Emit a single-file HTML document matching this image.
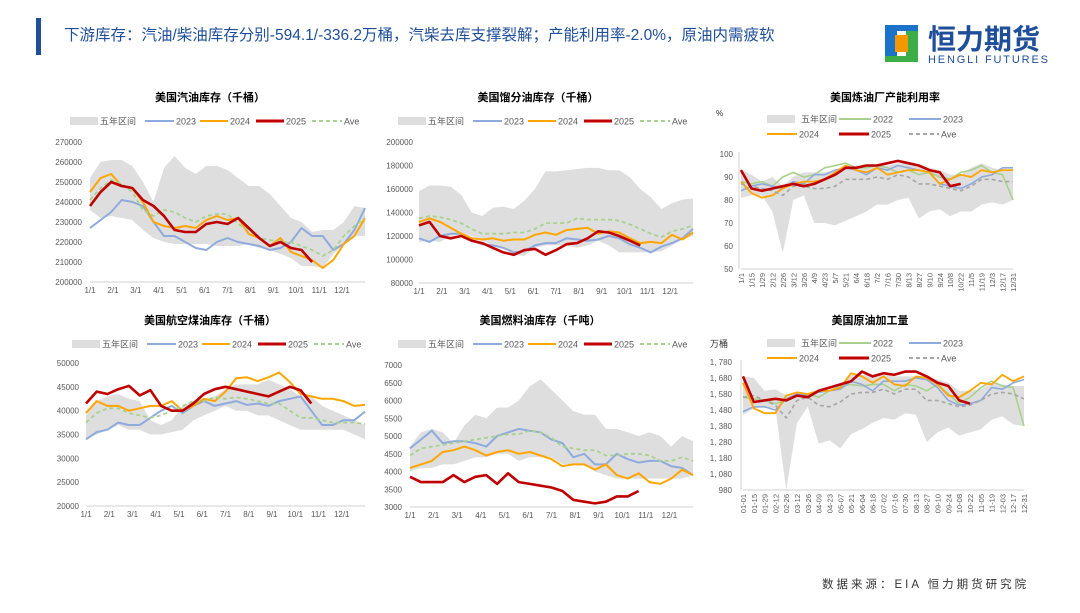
<!DOCTYPE html>
<html><head><meta charset="utf-8">
<style>
html,body{margin:0;padding:0;background:#fff;}
body{width:1080px;height:608px;overflow:hidden;position:relative;font-family:"Liberation Sans","Noto Sans CJK SC",sans-serif;}
svg text{font-family:"Liberation Sans","Noto Sans CJK SC",sans-serif;}
</style></head>
<body>
<svg id="pg" width="1080" height="608" viewBox="0 0 1080 608" xmlns="http://www.w3.org/2000/svg">
  <rect x="36" y="18" width="5" height="37" fill="#1f4e9a"/>
  <text x="64" y="40" font-size="15.5" fill="#1f4e9a">下游库存：汽油/柴油库存分别-594.1/-336.2万桶，汽柴去库支撑裂解；产能利用率-2.0%，原油内需疲软</text>
  <g>
    <rect x="885" y="25" width="12" height="37" fill="#1a73c8"/>
    <rect x="906" y="25" width="12" height="37" fill="#3cae48"/>
    <rect x="885" y="25" width="33" height="6" fill="#1a73c8"/>
    <rect x="885" y="56" width="33" height="6" fill="#3cae48"/>
    <rect x="895" y="35" width="13" height="17" fill="#f39800"/>
    <text x="928" y="49" font-size="28" font-weight="bold" fill="#1f4e9a">恒力期货</text>
    <text x="928" y="63" font-size="11" fill="#1f4e9a" textLength="120">HENGLI FUTURES</text>
  </g>
  <text x="822" y="588" font-size="11.5" fill="#333" letter-spacing="3">数据来源：EIA 恒力期货研究院</text>
</svg>
<script>
// ---------- data ----------
const monthLabels = ["1/1","2/1","3/1","4/1","5/1","6/1","7/1","8/1","9/1","10/1","11/1","12/1"];
const weekLabels = ["1/1","1/15","1/29","2/12","2/26","3/12","3/26","4/9","4/23","5/7","5/21","6/4","6/18","7/2","7/16","7/30","8/13","8/27","9/10","9/24","10/8","10/22","11/5","11/19","12/3","12/17","12/31"];
const dashLabels = ["01-01","01-15","01-29","02-12","02-26","03-12","03-26","04-09","04-23","05-07","05-21","06-04","06-18","07-02","07-16","07-30","08-13","08-27","09-10","09-24","10-08","10-22","11-05","11-19","12-03","12-17","12-31"];

const gasTicks = [200000,210000,220000,230000,240000,250000,260000,270000];
const gasMin = [236,232,233,232,231,226,222,220,219,219,219,219,218,218,218,219,217,216,214,212,208,208,207,214,219,223,223];
const gasMax = [252,260,261,261,258,250,240,257,263,257,254,258,258,256,252,248,248,244,238,232,230,225,226,226,230,238,237];
const gas2023 = [227,231,235,241,240,238,230,223,223,220,217,216,220,222,220,219,218,216,217,220,227,223,223,216,219,226,237];
const gas2024 = [245,252,254,248,247,240,230,228,227,228,227,231,233,231,232,224,222,218,222,215,213,211,207,211,219,223,232];
const gas2025 = [238,245,250,248,247,241,238,233,226,225,225,229,230,229,232,227,222,218,220,217,216,210];
const gasAve = [241,247,251,249,245,236,233,236,235,232,230,233,234,234,229,226,222,221,220,220,218,216,213,216,223,228,232];

const disTicks = [80000,100000,120000,140000,160000,180000,200000];
const disMin = [115,116,115,120,122,120,116,112,111,104,103,110,112,112,112,110,112,116,112,106,106,106,106,107,112,117,120];
const disMax = [158,163,163,162,155,140,137,144,145,143,150,160,175,175,176,177,178,178,176,176,170,160,153,143,148,151,152];
const dis2023 = [118,115,120,122,122,116,113,112,110,106,107,112,114,114,118,117,116,117,120,118,113,110,106,111,114,118,126];
const dis2024 = [132,135,132,127,122,118,117,118,116,117,117,121,123,121,125,126,127,122,124,123,118,114,115,114,121,117,123];
const dis2025 = [129,132,120,118,120,116,114,110,106,104,108,109,104,108,113,114,118,124,123,120,116,112];
const disAve = [135,137,136,134,131,126,122,122,122,123,123,126,131,131,131,135,134,134,134,133,130,126,122,119,124,126,129];

const utilTicks = [50,60,70,80,90,100];
const utilMin = [81,82,82,75,57,80,82,70,70,69,71,73,75,78,78,80,81,72,75,76,73,75,75,78,79,78,80];
const utilMax = [93,91,88,90,86,90,92,92,92,93,95,95,95,95,95,96,96,95,94,93,91,91,94,96,94,93,93];
const util2022 = [88,87,88,86,90,92,90,91,94,95,96,94,94,95,94,92,93,91,92,90,89,92,93,95,92,91,80];
const util2023 = [84,86,87,86,85,88,87,91,91,93,94,93,91,94,93,95,94,93,92,87,86,85,87,90,91,94,94];
const util2024 = [88,83,81,82,85,87,88,88,89,92,95,93,92,94,91,92,93,93,92,87,89,91,90,93,92,93,93];
const util2025 = [93,85,84,85,86,87,86,87,89,91,94,94,95,95,96,97,96,95,93,92,86,87];
const utilAve = [87,86,85,84,82,86,86,85,85,86,89,89,89,90,89,91,90,87,87,86,85,84,86,89,89,88,88];

const jetTicks = [20000,25000,30000,35000,40000,45000,50000];
const jetMin = [34,35,36,37,36,36,35,35,35.5,36,38,39,40,41,40,40,39,39,38,37,36,36,36,36,36,35,34];
const jetMax = [39,42,43,43.5,42.5,42,38,37,38,41,42,42.5,43,44.5,45.5,45.5,45.5,46.5,45.5,44.5,43,43,41,40,39,38,37];
const jet2023 = [34,35.5,36,37.5,37,37,38.5,40,41,39.5,41,42,41,41.5,42,41.2,41.5,41,42,42.5,43,40,37,37,38,38,39.8];
const jet2024 = [39.5,42,41,41,40,40.5,41,41,42,40,41,42.5,42,44,46.8,47,46.2,47,48,46,43.5,43,42.5,42.5,42,41,41.2];
const jet2025 = [41.5,44,43.5,44.5,45.2,43.2,44.3,41,40,40,41.5,43.5,44.5,45,44.5,44,43.5,43,44,45,44.3,41.5];
const jetAve = [37.5,39.5,40.5,40.5,39.5,39,38.5,39,40,41,42,42,42.8,42.5,42.8,42.5,42,41.5,41.5,40,38.5,38.5,38,37.5,37.5,37.5,37.2];

const fuelTicks = [3000,3500,4000,4500,5000,5500,6000,6500,7000];
const fuelMin = [4000,4100,4100,4200,4200,4300,4400,4400,4500,4500,4300,4400,4400,4400,4200,4200,4200,4000,3900,3800,3800,3800,3800,3800,3800,3800,3900];
const fuelMax = [4700,5100,5200,5100,4800,5300,5600,5500,5800,5800,6000,6400,6600,6300,6000,5700,5600,5600,5200,5200,5100,5000,5100,5000,4700,5000,4850];
const fuel2023 = [4650,4900,5150,4800,4850,4850,4800,4700,5000,5100,5200,5150,5100,4900,4800,4400,4500,4200,4200,4500,4350,4250,4300,4300,4150,4100,3900];
const fuel2024 = [4100,4200,4300,4550,4600,4700,4600,4450,4550,4600,4500,4550,4450,4350,4150,4200,4200,4050,4200,3900,3800,3950,3700,3650,3800,4050,3900];
const fuel2025 = [3850,3700,3700,3700,3900,3700,3850,3900,3650,3950,3700,3650,3600,3550,3450,3200,3150,3100,3150,3300,3300,3450];
const fuelAve = [4450,4650,4700,4750,4800,4850,4900,4950,5000,5050,5050,5150,5100,4950,4700,4650,4600,4600,4450,4450,4500,4500,4450,4300,4300,4400,4300];

const runTicks = [980,1080,1180,1280,1380,1480,1580,1680,1780];
const runMin = [1450,1490,1500,1490,980,1400,1500,1270,1290,1240,1330,1360,1400,1430,1420,1460,1450,1280,1340,1370,1320,1340,1360,1420,1440,1390,1380];
const runMax = [1690,1680,1600,1610,1570,1580,1580,1580,1590,1620,1700,1700,1700,1700,1690,1690,1690,1690,1670,1650,1600,1600,1610,1650,1640,1630,1630];
const run2022 = [1560,1550,1540,1520,1540,1570,1580,1560,1600,1630,1640,1630,1640,1640,1600,1640,1630,1600,1640,1580,1520,1560,1620,1660,1630,1620,1380];
const run2023 = [1470,1500,1500,1480,1550,1580,1570,1590,1600,1610,1660,1640,1600,1660,1660,1660,1680,1670,1620,1540,1510,1520,1540,1620,1610,1650,1670];
const run2024 = [1650,1490,1460,1460,1570,1590,1580,1600,1600,1620,1710,1690,1650,1690,1640,1630,1690,1680,1640,1570,1560,1600,1650,1640,1700,1660,1690];
const run2025 = [1690,1530,1540,1550,1540,1570,1560,1600,1620,1640,1660,1720,1690,1710,1700,1720,1720,1690,1650,1630,1540,1520];
const runAve = [1560,1570,1540,1510,1430,1540,1560,1510,1500,1530,1580,1590,1590,1610,1580,1610,1610,1540,1540,1520,1500,1510,1540,1580,1590,1580,1550];

// ---------- rendering ----------
const NS = "http://www.w3.org/2000/svg";
const svg = document.getElementById("pg");
function mk(tag, attrs, parent){ const e=document.createElementNS(NS,tag); for(const k in attrs) e.setAttribute(k,attrs[k]); (parent||svg).appendChild(e); return e; }
const C = {band:"#dedede",y22:"#a9d18e",y23:"#8faadc",y24:"#ffa500",y25:"#c00000",aveG:"#a9d18e",aveY:"#a6a6a6",txt:"#595959"};

function drawChart(cfg){
  const g = mk("g",{});
  
  
  const n = 27;
  const xs = i => cfg.x0 + (cfg.x1-cfg.x0)*i/(n-1);
  const ys = v => cfg.y1 - (v*cfg.scale - cfg.ymin)/(cfg.ymax-cfg.ymin)*(cfg.y1-cfg.y0);
  const t = mk("text",{x:cfg.tx,y:cfg.ty,"font-size":11,"font-weight":"bold","text-anchor":"middle",fill:"#000"},g);
  t.textContent = cfg.title;
  
  
  let d = "";
  cfg.max.forEach((v,i)=>{ d += (i?"L":"M")+xs(i).toFixed(1)+","+ys(v).toFixed(1); });
  for(let i=cfg.min.length-1;i>=0;i--) d += "L"+xs(i).toFixed(1)+","+ys(cfg.min[i]).toFixed(1);
  const band = mk("path",{d:d+"Z",fill:C.band,stroke:"none"},g);
  
  
  mk("line",{x1:cfg.x0,y1:cfg.y1,x2:cfg.x1,y2:cfg.y1,stroke:"#d0d0d0","stroke-width":1},g);
  if(cfg.leftAxis) mk("line",{x1:cfg.x0-2,y1:cfg.y0-2,x2:cfg.x0-2,y2:cfg.y1,stroke:"#d0d0d0","stroke-width":1},g);
  cfg.ticks.forEach(v=>{
    const tt = mk("text",{x:cfg.ylx,y:ys(v/cfg.scale)+3,"font-size":cfg.yfs||8,"text-anchor":"end",fill:C.txt},g);
    tt.textContent = cfg.fmt ? cfg.fmt(v) : String(v);
    
    
  });
  if(cfg.xmode==="month"){
    cfg.xl.forEach((lab,m)=>{
      const x = cfg.x0 + (cfg.x1-cfg.x0)*m/12;
      const tt = mk("text",{x:x,y:cfg.y1+11,"font-size":8,"text-anchor":"middle",fill:C.txt},g);
      tt.textContent = lab;
      
      
    });
  } else {
    cfg.xl.forEach((lab,i)=>{
      const x = xs(i)+3;
      const tt = mk("text",{x:0,y:0,"font-size":7.5,"text-anchor":"end",fill:C.txt,transform:`translate(${x.toFixed(1)},${cfg.y1+4}) rotate(-90)`},g);
      tt.textContent = lab;
      
      
    });
  }
  cfg.series.forEach(s=>{
    const p = s.data.map((v,i)=>(i?"L":"M")+xs(i).toFixed(1)+","+ys(v).toFixed(1)).join("");
    const a = {d:p,fill:"none",stroke:s.color,"stroke-width":s.w,"stroke-linejoin":"round"};
    if(s.dash) a["stroke-dasharray"]="4,3";
    const pe = mk("path",a,g);
    
    
  });
  cfg.legend.forEach(L=>{
    const lg = mk("g",{},g);
    
    
    if(L.band) mk("rect",{x:L.x,y:L.y-4,width:28,height:8,fill:C.band},lg);
    else { const a={x1:L.x,y1:L.y,x2:L.x+(L.len||28),y2:L.y,stroke:L.color,"stroke-width":L.w}; if(L.dash)a["stroke-dasharray"]="4,3"; mk("line",a,lg); }
    const tt = mk("text",{x:L.x+(L.len||28)+2,y:L.y+3.5,"font-size":9,fill:C.txt},lg);
    tt.textContent = L.label;
  });
  if(cfg.unit){
    const u = mk("text",{x:cfg.unit.x,y:cfg.unit.y,"font-size":cfg.unit.fs,fill:"#333"},g);
    u.textContent = cfg.unit.t;
    
    
  }
}

function leftLegend(x0,y){
  return [
    {band:true,x:x0,y:y,label:"五年区间",len:28},
    {x:x0+75,y:y,color:C.y23,w:2,label:"2023",len:29},
    {x:x0+130,y:y,color:C.y24,w:2,label:"2024",len:28},
    {x:x0+186,y:y,color:C.y25,w:3,label:"2025",len:28},
    {x:x0+242,y:y,color:C.aveG,w:2,dash:true,label:"Ave",len:30}
  ];
}
function rightLegend(x0,y){
  return [
    {band:true,x:x0,y:y,label:"五年区间",len:32},
    {x:x0+72,y:y,color:C.y22,w:2,label:"2022",len:32},
    {x:x0+142,y:y,color:C.y23,w:2,label:"2023",len:32},
    {x:x0,y:y+15,color:C.y24,w:2,label:"2024",len:30},
    {x:x0+72,y:y+15,color:C.y25,w:3,label:"2025",len:30},
    {x:x0+142,y:y+15,color:C.aveY,w:2,dash:true,label:"Ave",len:30}
  ];
}
function leftSeries(a,b,c,ave){
  return [
    {id:"line-2023",data:a,color:C.y23,w:2},
    {id:"line-2024",data:b,color:C.y24,w:2},
    {id:"line-ave",data:ave,color:C.aveG,w:1.8,dash:true},
    {id:"line-2025",data:c,color:C.y25,w:2.6}
  ];
}
function rightSeries(a22,a,b,c,ave){
  return [
    {id:"line-2022",data:a22,color:C.y22,w:1.6},
    {id:"line-2023",data:a,color:C.y23,w:1.6},
    {id:"line-2024",data:b,color:C.y24,w:1.8},
    {id:"line-ave",data:ave,color:C.aveY,w:1.6,dash:true},
    {id:"line-2025",data:c,color:C.y25,w:2.6}
  ];
}
const comma = v => v>=1000 ? Math.floor(v/1000)+", "+String(v%1000).padStart(3,"0") : String(v);

drawChart({name:"gasoline-inventory-chart",title:"美国汽油库存（千桶）",tx:210,ty:101,x0:90,x1:365,y0:142,y1:282,ymin:200000,ymax:270000,scale:1000,ticks:gasTicks,ylx:82,xmode:"month",xl:monthLabels,min:gasMin,max:gasMax,series:leftSeries(gas2023,gas2024,gas2025,gasAve),legend:leftLegend(70,121),leftAxis:false});
drawChart({name:"distillate-inventory-chart",title:"美国馏分油库存（千桶）",tx:538,ty:101,x0:419,x1:693,y0:142,y1:283,ymin:80000,ymax:200000,scale:1000,ticks:disTicks,ylx:413,xmode:"month",xl:monthLabels,min:disMin,max:disMax,series:leftSeries(dis2023,dis2024,dis2025,disAve),legend:leftLegend(398,121),leftAxis:false});
drawChart({name:"refinery-utilization-chart",title:"美国炼油厂产能利用率",tx:885,ty:101,x0:741,x1:1013,y0:154,y1:269,ymin:50,ymax:100,scale:1,ticks:utilTicks,ylx:733,yfs:8,xmode:"rot",xl:weekLabels,min:utilMin,max:utilMax,series:rightSeries(util2022,util2023,util2024,util2025,utilAve),legend:rightLegend(767,119),leftAxis:true,unit:{t:"%",x:716,y:116,fs:8}});
drawChart({name:"jet-fuel-inventory-chart",title:"美国航空煤油库存（千桶）",tx:210,ty:324,x0:86,x1:365,y0:363,y1:506,ymin:20000,ymax:50000,scale:1000,ticks:jetTicks,ylx:79,xmode:"month",xl:monthLabels,min:jetMin,max:jetMax,series:leftSeries(jet2023,jet2024,jet2025,jetAve),legend:leftLegend(72,344),leftAxis:false});
drawChart({name:"fuel-oil-inventory-chart",title:"美国燃料油库存（千吨）",tx:540,ty:324,x0:410,x1:693,y0:365,y1:507,ymin:3000,ymax:7000,scale:1,ticks:fuelTicks,ylx:402,xmode:"month",xl:monthLabels,min:fuelMin,max:fuelMax,series:leftSeries(fuel2023,fuel2024,fuel2025,fuelAve),legend:leftLegend(398,344),leftAxis:false});
drawChart({name:"crude-runs-chart",title:"美国原油加工量",tx:870,ty:324,x0:743,x1:1024,y0:362,y1:490,ymin:980,ymax:1780,scale:1,ticks:runTicks,ylx:732,yfs:8,fmt:comma,xmode:"rot",xl:dashLabels,min:runMin,max:runMax,series:rightSeries(run2022,run2023,run2024,run2025,runAve),legend:rightLegend(767,343),leftAxis:true,unit:{t:"万桶",x:710,y:347,fs:9}});
</script>
</body></html>
